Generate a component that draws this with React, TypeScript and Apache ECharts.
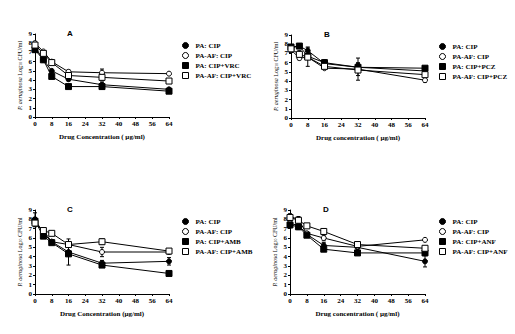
import React, { useEffect, useRef } from "react";
import * as echarts from "echarts";

const concentrations = [0, 4, 8, 16, 32, 64];
const xTicks = [0, 8, 16, 24, 32, 40, 48, 56, 64];

// Panel A
const aNames = ["PA: CIP", "PA-AF: CIP", "PA: CIP+VRC", "PA-AF: CIP+VRC"];
const aPaCip = [7.6, 6.2, 5.0, 4.1, 3.5, 3.0];
const aAfCip = [8.0, 7.1, 6.0, 4.9, 4.8, 4.7];
const aPaVrc = [7.3, 6.2, 4.4, 3.3, 3.3, 2.8];
const aAfVrc = [7.8, 6.9, 5.9, 4.5, 4.3, 3.9];
const aErr = [[0.3, 0, 0, 0.2, 0.3, 0], [0.2, 0, 0, 0.2, 0.4, 0.1], [0.2, 0, 0, 0, 0.3, 0], [0.2, 0.2, 0, 0.2, 0.3, 0.1]];

// Panel B
const bNames = ["PA: CIP", "PA-AF: CIP", "PA: CIP+PCZ", "PA-AF: CIP+PCZ"];
const bPaCip = [7.6, 7.8, 7.3, 5.9, 5.5, 5.1];
const bAfCip = [7.4, 6.5, 6.6, 5.4, 5.3, 4.1];
const bPaPcz = [7.7, 7.8, 6.7, 6.0, 5.5, 5.4];
const bAfPcz = [7.5, 6.9, 6.6, 5.6, 5.2, 4.7];
const bErr = [[0.3, 0, 0.4, 0.4, 0.5, 0.3], [0.3, 0.2, 0, 0, 1.2, 0.2], [0.2, 0.2, 0.3, 0.3, 0.4, 0.2], [0.2, 0.4, 1.0, 0.2, 0.6, 0.2]];

// Panel C
const cNames = ["PA: CIP", "PA-AF: CIP", "PA: CIP+AMB", "PA-AF: CIP+AMB"];
const cPaCip = [8.0, 6.5, 5.6, 4.5, 3.3, 3.5];
const cAfCip = [7.5, 6.8, 5.6, 5.3, 4.5, 4.5];
const cPaAmb = [7.8, 6.2, 5.5, 4.3, 3.1, 2.2];
const cAfAmb = [7.6, 6.8, 6.5, 5.3, 5.6, 4.6];
const cErr = [[0.7, 0.2, 0, 1.4, 0.3, 0.4], [0.3, 0, 0, 0, 0.5, 0.2], [0.4, 0.2, 0, 0.2, 0.2, 0], [0.3, 0.2, 0, 0.2, 0.3, 0.2]];

// Panel D
const dNames = ["PA: CIP", "PA-AF: CIP", "PA: CIP+ANF", "PA-AF: CIP+ANF"];
const dPaCip = [8.3, 8.0, 6.4, 5.2, 5.0, 3.5];
const dAfCip = [7.6, 7.3, 6.5, 6.0, 5.1, 5.8];
const dPaAnf = [7.4, 7.2, 6.3, 4.8, 4.4, 4.4];
const dAfAnf = [8.2, 7.9, 7.3, 6.7, 5.3, 4.9];
const dErr = [[0.3, 0.3, 0, 0.3, 0.3, 0.6], [0.3, 0.4, 0, 0.3, 0.2, 0], [0.3, 0.2, 0, 0.2, 0, 0.2], [0.3, 0.2, 0.2, 0.3, 0.2, 0.2]];

const panels = [
  { title: "A", names: aNames, data: [aPaCip, aAfCip, aPaVrc, aAfVrc], err: aErr, xName: "Drug Concentration ( µg/ml)", grid: { left: 35, top: 34, width: 134, height: 83 }, legend: { left: 177, top: 37 } },
  { title: "B", names: bNames, data: [bPaCip, bAfCip, bPaPcz, bAfPcz], err: bErr, xName: "Drug concentration ( µg/ml)", grid: { left: 291, top: 35, width: 134, height: 83 }, legend: { left: 434, top: 38 } },
  { title: "C", names: cNames, data: [cPaCip, cAfCip, cPaAmb, cAfAmb], err: cErr, xName: "Drug Concentration (µg/ml)", grid: { left: 35, top: 210, width: 134, height: 84 }, legend: { left: 177, top: 213 } },
  { title: "D", names: dNames, data: [dPaCip, dAfCip, dPaAnf, dAfAnf], err: dErr, xName: "Drug concentration ( µg/ml)", grid: { left: 290, top: 210, width: 135, height: 84 }, legend: { left: 434, top: 213 } },
];

const symbols = ["circle", "circle", "rect", "rect"];
const fills = ["#000", "#fff", "#000", "#fff"];

export default function App() {
  const ref = useRef<HTMLDivElement>(null);
  useEffect(() => {
    if (!ref.current) return;
    const chart = echarts.init(ref.current, null, { renderer: "svg" });
    const font = "Liberation Serif";
    const grids: any[] = [];
    const xAxes: any[] = [];
    const yAxes: any[] = [];
    const series: any[] = [];
    const legends: any[] = [];
    const graphics: any[] = [];
    panels.forEach((p, pi) => {
      grids.push({ ...p.grid });
      xAxes.push({
        type: "value", gridIndex: pi, min: 0, max: 64, interval: 8,
        name: p.xName, nameLocation: "middle", nameGap: 16,
        nameTextStyle: { fontFamily: font, fontSize: 7, color: "#000", fontWeight: "bold" },
        axisLine: { lineStyle: { color: "#000", width: 1 } },
        axisTick: { show: true, length: 2, lineStyle: { color: "#000" } },
        axisLabel: { fontFamily: font, fontSize: 7, color: "#000", margin: 3, fontWeight: "bold" },
        splitLine: { show: false },
      });
      yAxes.push({
        type: "value", gridIndex: pi, min: 0, max: 9, interval: 1,
        name: "{i|P. aeruginosa} Log{s|10} CFU/ml", nameLocation: "middle", nameGap: 12,
        nameTextStyle: {
          fontFamily: font, fontSize: 6, color: "#000",
          rich: { i: { fontFamily: font, fontSize: 6, fontStyle: "italic", color: "#000" }, s: { fontFamily: font, fontSize: 4, color: "#000" } },
        },
        axisLine: { show: true, lineStyle: { color: "#000", width: 1 } },
        axisTick: { show: true, length: 2, lineStyle: { color: "#000" } },
        axisLabel: { fontFamily: font, fontSize: 7, color: "#000", margin: 3, fontWeight: "bold" },
        splitLine: { show: false },
      });
      const legendData: any[] = [];
      p.data.forEach((vals, si) => {
        series.push({
          type: "line", name: p.names[si], xAxisIndex: pi, yAxisIndex: pi,
          data: concentrations.map((c, i) => [c, vals[i]]),
          symbol: symbols[si], symbolSize: si >= 2 ? 6 : 5, showSymbol: true,
          lineStyle: { color: "#000", width: 1 },
          itemStyle: { color: fills[si], borderColor: "#000", borderWidth: 1 },
          z: 3,
        });
        series.push({
          type: "custom", xAxisIndex: pi, yAxisIndex: pi, silent: true, z: 2,
          data: concentrations.map((c, i) => [c, vals[i] - p.err[si][i], vals[i] + p.err[si][i]]).filter((d, i) => p.err[si][i] > 0),
          renderItem: (params: any, api: any) => {
            const x = api.value(0);
            const lo = api.coord([x, api.value(1)]);
            const hi = api.coord([x, api.value(2)]);
            const w = 2;
            const st = { stroke: "#000", lineWidth: 1 };
            return {
              type: "group",
              children: [
                { type: "line", shape: { x1: lo[0], y1: lo[1], x2: hi[0], y2: hi[1] }, style: st },
                { type: "line", shape: { x1: lo[0] - w, y1: lo[1], x2: lo[0] + w, y2: lo[1] }, style: st },
                { type: "line", shape: { x1: hi[0] - w, y1: hi[1], x2: hi[0] + w, y2: hi[1] }, style: st },
              ],
            };
          },
        });
        legendData.push({
          name: p.names[si], icon: symbols[si],
          itemStyle: { color: fills[si], borderColor: "#000", borderWidth: 1 },
        });
      });
      legends.push({
        orient: "vertical", left: p.legend.left, top: p.legend.top, itemGap: 3, itemWidth: 6, itemHeight: 6,
        selectedMode: false, data: legendData,
        textStyle: { fontFamily: font, fontSize: 7, color: "#000", fontWeight: "bold", lineHeight: 7, padding: [0, 0, 0, 2] },
      });
      graphics.push({
        type: "text", left: p.grid.left + (pi % 2 === 0 ? 32 : 33), top: p.grid.top - 5,
        style: { text: p.title, font: "bold 8px 'Liberation Sans'", fill: "#000" },
      });
    });
    chart.setOption({
      animation: false,
      backgroundColor: "#fff",
      grid: grids,
      xAxis: xAxes,
      yAxis: yAxes,
      legend: legends,
      series,
      graphic: graphics,
    });
    return () => chart.dispose();
  }, []);
  return <div ref={ref} style={{ position: "absolute", left: 0, top: 0, width: 515, height: 334 }} />;
}
